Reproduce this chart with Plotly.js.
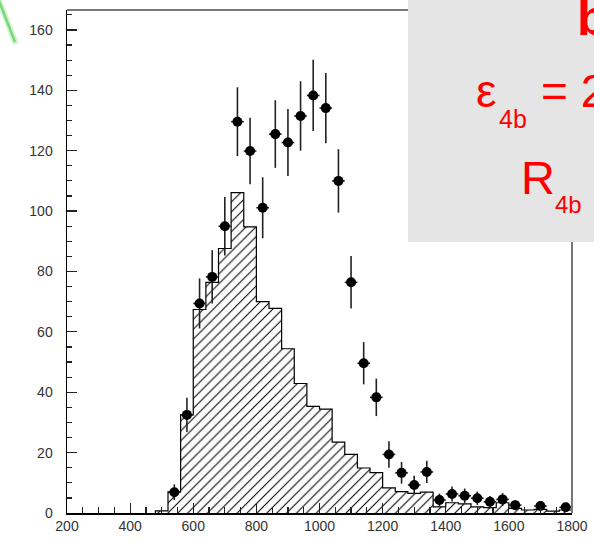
<!DOCTYPE html>
<html>
<head>
<meta charset="utf-8">
<script src="https://cdn.plot.ly/plotly-3.0.1.min.js"></script>
<style>
html,body{margin:0;padding:0;background:#fff;}
#chart{width:594px;height:541px;}
</style>
</head>
<body>
<div id="chart"></div>
<script>
// ---- data ----
// histogram: left edges of 40-wide bins and their heights
const histEdges = [480,520,560,600,640,680,720,760,800,840,880,920,960,1000,1040,1080,1120,1160,1200,1240,1280,1320,1360,1400,1440,1480,1520,1560,1600,1640,1680,1720,1760];
const histHeights = [0.7,7,32.5,67.4,76.4,87.6,106.1,94.8,70.0,67.8,54.4,42.9,35.3,34.4,23.5,19.4,14.9,13.4,8.3,7.1,6.5,6.9,2.0,3.4,3.0,2.0,1.8,3.4,1.5,1.0,1.2,0.6,1.0];
const histUpper = 1800;

// data points
const dataX = [540,580,620,660,700,740,780,820,860,900,940,980,1020,1060,1100,1140,1180,1220,1260,1300,1340,1380,1420,1460,1500,1540,1580,1620,1700,1780];
const dataY = [6.9,32.5,69.4,78.2,95.0,129.6,119.9,101.1,125.5,122.7,131.5,138.3,134.1,110.0,76.4,49.6,38.3,19.4,13.3,9.3,13.6,4.3,6.3,5.7,4.9,3.7,4.5,2.6,2.3,1.9];
const dataErr = [2.6,5.7,8.3,8.8,9.7,11.4,11.0,10.1,11.2,11.1,11.5,11.8,11.6,10.5,8.7,7.0,6.2,4.4,3.6,3.0,3.7,2.1,2.5,2.4,2.2,1.9,2.1,1.6,1.5,1.4];
const dataXErr = [20,20,20,20,20,20,20,20,20,20,20,20,20,20,20,20,20,20,20,20,20,20,20,20,20,20,20,20,20,20];

const xTickVals = [200,400,600,800,1000,1200,1400,1600,1800];
const yTickVals = [0,20,40,60,80,100,120,140,160];

// ---- build step outline from histogram arrays ----
const stepX = [histEdges[0]].concat(histEdges, [histUpper, histUpper]);
const stepY = [0].concat(histHeights, [histHeights[histHeights.length-1], 0]);

// plot area geometry (pixels) for positioning decorations
const L = 67, R = 572, T = 10, B = 513;
const px = v => (v - L) / (R - L);
const py = v => (B - v) / (B - T);

const histTrace = {
  type: 'scatter', mode: 'lines',
  x: stepX, y: stepY,
  line: {shape: 'hv', color: '#000', width: 1.2},
  fill: 'tozeroy',
  fillcolor: '#fff',
  fillpattern: {shape: '/', fgcolor: '#000', bgcolor: '#fff', size: 7, solidity: 0.15},
  hoverinfo: 'skip'
};

const dataTrace = {
  type: 'scatter', mode: 'markers',
  x: dataX, y: dataY,
  marker: {color: '#000', size: 10, symbol: 'circle'},
  error_y: {type: 'data', array: dataErr, visible: true, color: '#222', thickness: 1.6, width: 0},
  error_x: {type: 'data', array: dataXErr, visible: true, color: '#222', thickness: 1.6, width: 0}
};

const red = '#ff0000';
const tf = 'Liberation Sans, Arial, Helvetica, sans-serif';

const layout = {
  width: 594, height: 541,
  margin: {l: L, r: 594 - R, t: T, b: 541 - B},
  paper_bgcolor: '#fff', plot_bgcolor: '#fff',
  showlegend: false,
  xaxis: {
    range: [200, 1800], tickvals: xTickVals, ticktext: xTickVals.map(String),
    ticks: 'inside', ticklen: 10, tickwidth: 1.2, tickcolor: '#222',
    minor: {dtick: 50, tick0: 200, ticks: 'inside', ticklen: 6, tickwidth: 1.2, tickcolor: '#222'},
    showline: true, linecolor: '#000', linewidth: 1.5,
    showgrid: false, zeroline: false,
    tickfont: {family: tf, size: 14, color: '#333'}
  },
  yaxis: {
    range: [0, 166.6], tickvals: yTickVals, ticktext: yTickVals.map(String),
    ticks: 'inside', ticklen: 10, tickwidth: 1.2, tickcolor: '#222',
    minor: {dtick: 5, tick0: 0, ticks: 'inside', ticklen: 5, tickwidth: 1.2, tickcolor: '#222'},
    showline: true, linecolor: '#000', linewidth: 1.5,
    showgrid: false, zeroline: false,
    ticklabelstandoff: 10,
    tickfont: {family: tf, size: 14, color: '#333'}
  },
  shapes: [
    // top and right frame
    {type: 'line', xref: 'paper', yref: 'paper', x0: 0, x1: 1, y0: 1, y1: 1, line: {color: '#777', width: 2}, layer: 'above'},
    {type: 'line', xref: 'paper', yref: 'paper', x0: 1, x1: 1, y0: 0, y1: 1, line: {color: '#777', width: 2}, layer: 'above'},
    // grey label box
    {type: 'rect', xref: 'paper', yref: 'paper', x0: px(408), x1: px(610), y0: py(242), y1: py(-10),
     fillcolor: '#e5e5e5', line: {width: 0}, layer: 'above'},
    // green decoration at top-left
    {type: 'line', xref: 'paper', yref: 'paper', x0: px(-2), y0: py(-2), x1: px(16), y1: py(44),
     line: {color: 'rgba(200,240,200,0.8)', width: 6}, layer: 'above'},
    {type: 'line', xref: 'paper', yref: 'paper', x0: px(-2), y0: py(-2), x1: px(15), y1: py(42),
     line: {color: 'rgba(110,215,110,0.9)', width: 2.5}, layer: 'above'}
  ],
  annotations: [
    {xref: 'paper', yref: 'paper', x: px(575), y: py(18), xanchor: 'left', yanchor: 'middle', showarrow: false,
     text: '<b>b</b>', font: {family: tf, size: 50, color: red}},
    {xref: 'paper', yref: 'paper', x: px(486), y: py(91), xanchor: 'center', yanchor: 'middle', showarrow: false,
     text: 'ε', font: {family: tf, size: 46, color: red}},
    {xref: 'paper', yref: 'paper', x: px(497), y: py(119), xanchor: 'left', yanchor: 'middle', showarrow: false,
     text: '4b', font: {family: tf, size: 25, color: red}},
    {xref: 'paper', yref: 'paper', x: px(539), y: py(91), xanchor: 'left', yanchor: 'middle', showarrow: false,
     text: '= 2', font: {family: tf, size: 46, color: red}},
    {xref: 'paper', yref: 'paper', x: px(519), y: py(177), xanchor: 'left', yanchor: 'middle', showarrow: false,
     text: 'R', font: {family: tf, size: 47, color: red}},
    {xref: 'paper', yref: 'paper', x: px(553), y: py(204), xanchor: 'left', yanchor: 'middle', showarrow: false,
     text: '4b', font: {family: tf, size: 24, color: red}}
  ]
};

Plotly.newPlot('chart', [histTrace, dataTrace], layout, {displayModeBar: false, staticPlot: true});
</script>
</body>
</html>
